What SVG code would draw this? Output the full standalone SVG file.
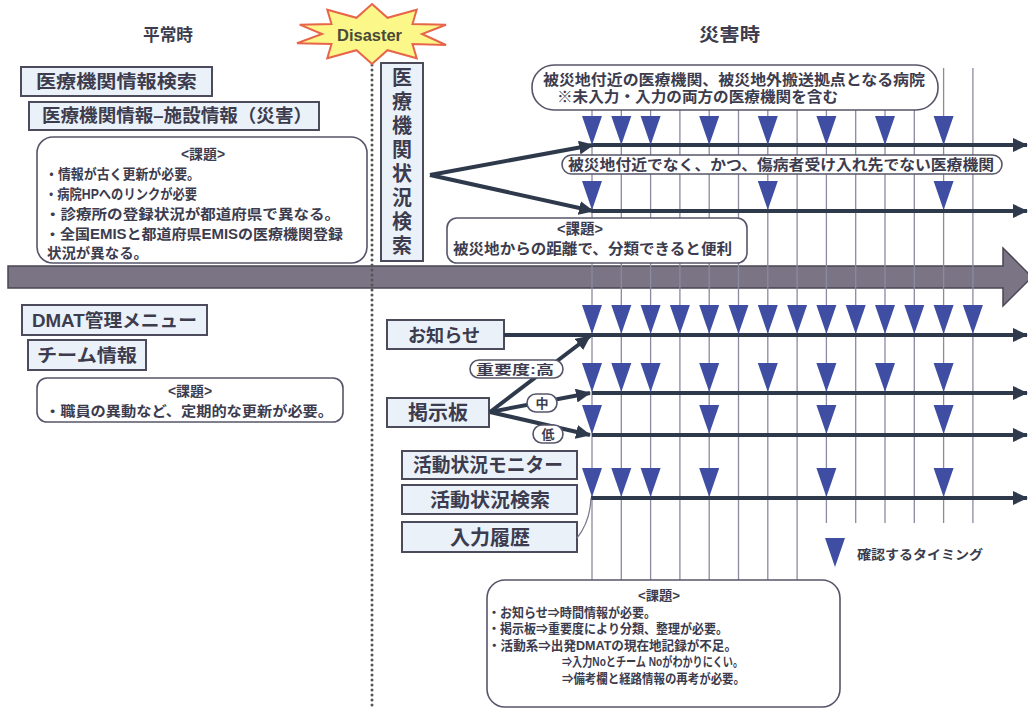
<svg xmlns="http://www.w3.org/2000/svg" xmlns:xlink="http://www.w3.org/1999/xlink" width="1028" height="710" viewBox="0 0 1028 710">
<defs>
<style>
text{font-family:"Liberation Sans","Noto Sans CJK JP",sans-serif;font-weight:bold;fill:#3c3c4e;}
.box{fill:#eaf1f9;stroke:#4b4b5c;stroke-width:2;}
.call{fill:#ffffff;stroke:#55556a;stroke-width:1.6;}
.grid{stroke:#8a8aa0;stroke-width:1.3;}
.arr{stroke:#2e3a4c;stroke-width:4;fill:none;}
.tri{fill:#3f4ea2;}
.thin{stroke:#77778a;stroke-width:1.2;fill:none;}
.c{text-anchor:middle;}
</style>
<marker id="ah" markerUnits="userSpaceOnUse" markerWidth="16" markerHeight="14" refX="14" refY="7" orient="auto">
<path d="M0,0 L15,7 L0,14 Z" fill="#2e3a4c"/>
</marker>
<path id="t" class="tri" d="M-10,-29 L10,-29 L0,0 Z"/>
</defs>
<rect width="1028" height="710" fill="#ffffff"/>

<!-- headers -->
<text x="143" y="41" font-size="17" textLength="50" lengthAdjust="spacingAndGlyphs">平常時</text>
<text x="699" y="41" font-size="18" textLength="61" lengthAdjust="spacingAndGlyphs">災害時</text>

<!-- big timeline arrow -->
<g id="timeline">
<path d="M8,266 L1003,266 L1003,248 L1032,277 L1003,306 L1003,288 L8,288 Z" fill="#7b7484" stroke="#4a4652" stroke-width="1.5"/>
</g>

<!-- dotted divider -->
<line x1="372" y1="60" x2="372" y2="710" stroke="#555" stroke-width="3" stroke-linecap="round" stroke-dasharray="0 5"/>

<!-- grid lines -->
<g id="grid" class="grid">
<line x1="592" y1="68" x2="592" y2="582"/>
<line x1="621.3" y1="68" x2="621.3" y2="582"/>
<line x1="650.6" y1="68" x2="650.6" y2="582"/>
<line x1="679.9" y1="68" x2="679.9" y2="582"/>
<line x1="709.2" y1="68" x2="709.2" y2="582"/>
<line x1="738.5" y1="68" x2="738.5" y2="582"/>
<line x1="767.8" y1="68" x2="767.8" y2="582"/>
<line x1="797.1" y1="68" x2="797.1" y2="582"/>
<line x1="826.4" y1="68" x2="826.4" y2="523"/>
<line x1="855.7" y1="68" x2="855.7" y2="523"/>
<line x1="885" y1="68" x2="885" y2="523"/>
<line x1="914.3" y1="68" x2="914.3" y2="523"/>
<line x1="943.6" y1="68" x2="943.6" y2="523"/>
<line x1="972.9" y1="68" x2="972.9" y2="523"/>
</g>

<!-- Disaster star -->
<g id="disaster">
<polygon points="372,4 387.5,17.8 416.7,9.7 412.5,24 446,24.7 422,34 446,45 412.5,44 416.7,58.3 387.5,50.2 372,64 356.5,50.2 327.3,58.3 331.5,44 297,43.3 322,34 299.7,24.7 331.5,24 327.3,9.7 356.5,17.8" fill="#fbf788" stroke="#e8654a" stroke-width="2"/>
<text x="337" y="41" font-size="16" textLength="65" lengthAdjust="spacingAndGlyphs" style="fill:#4a4a38">Disaster</text>
</g>

<!-- left: normal time -->
<g id="n-search">
<rect class="box" x="21" y="67" width="191" height="29"/>
<text x="36" y="88" font-size="18" textLength="161" lengthAdjust="spacingAndGlyphs">医療機関情報検索</text>
</g>
<g id="n-facility">
<rect class="box" x="29" y="102" width="290" height="28"/>
<text x="42" y="122" font-size="18" textLength="270" lengthAdjust="spacingAndGlyphs">医療機関情報–施設情報（災害）</text>
</g>
<g id="n-issue1">
<rect class="call" x="37" y="137" width="330" height="126" rx="16"/>
<text x="181" y="159" font-size="14" textLength="44" lengthAdjust="spacingAndGlyphs">&lt;課題&gt;</text>
<text x="45" y="179" font-size="14" textLength="155" lengthAdjust="spacingAndGlyphs">・情報が古く更新が必要。</text>
<text x="45" y="199" font-size="14" textLength="152" lengthAdjust="spacingAndGlyphs">・病院HPへのリンクが必要</text>
<text x="45" y="219" font-size="14" textLength="295" lengthAdjust="spacingAndGlyphs">・診療所の登録状況が都道府県で異なる。</text>
<text x="45" y="239" font-size="14" textLength="298" lengthAdjust="spacingAndGlyphs">・全国EMISと都道府県EMISの医療機関登録</text>
<text x="47" y="258" font-size="14" textLength="101" lengthAdjust="spacingAndGlyphs">状況が異なる。</text>
</g>
<g id="n-dmat">
<rect class="box" x="22" y="305" width="185" height="30"/>
<text x="32" y="327" font-size="18" textLength="165" lengthAdjust="spacingAndGlyphs">DMAT管理メニュー</text>
</g>
<g id="n-team">
<rect class="box" x="28" y="340" width="118" height="30"/>
<text x="37" y="362" font-size="18" textLength="100" lengthAdjust="spacingAndGlyphs">チーム情報</text>
</g>
<g id="n-issue2">
<rect class="call" x="37" y="378" width="306" height="44" rx="10"/>
<text x="168" y="396" font-size="14" textLength="44" lengthAdjust="spacingAndGlyphs">&lt;課題&gt;</text>
<text x="45" y="416" font-size="14" textLength="288" lengthAdjust="spacingAndGlyphs">・職員の異動など、定期的な更新が必要。</text>
</g>

<!-- right: disaster time -->
<g id="n-status">
<rect class="box" x="381" y="63" width="42" height="198"/>
<text x="402" y="85" class="c" font-size="20">医</text>
<text x="402" y="109" class="c" font-size="20">療</text>
<text x="402" y="133" class="c" font-size="20">機</text>
<text x="402" y="157" class="c" font-size="20">関</text>
<text x="402" y="181" class="c" font-size="20">状</text>
<text x="402" y="205" class="c" font-size="20">況</text>
<text x="402" y="229" class="c" font-size="20">検</text>
<text x="402" y="253" class="c" font-size="20">索</text>
</g>
<g id="n-near">
<rect class="call" x="532" y="65" width="406" height="45" rx="22"/>
<text x="543" y="85" font-size="15" textLength="382" lengthAdjust="spacingAndGlyphs">被災地付近の医療機関、被災地外搬送拠点となる病院</text>
<text x="557" y="102" font-size="15" textLength="281" lengthAdjust="spacingAndGlyphs">※未入力・入力の両方の医療機関を含む</text>
</g>
<g id="n-far">
<rect class="call" x="562" y="155" width="440" height="19" rx="9.5"/>
<text x="568" y="170" font-size="15" textLength="426" lengthAdjust="spacingAndGlyphs">被災地付近でなく、かつ、傷病者受け入れ先でない医療機関</text>
</g>
<g id="n-issue3">
<rect class="call" x="447" y="218" width="300" height="45" rx="10"/>
<text x="557" y="234" font-size="15" textLength="46" lengthAdjust="spacingAndGlyphs">&lt;課題&gt;</text>
<text x="453" y="254" font-size="15" textLength="279" lengthAdjust="spacingAndGlyphs">被災地からの距離で、分類できると便利</text>
</g>
<g id="n-notice">
<rect class="box" x="387" y="320" width="117" height="29"/>
<text x="408" y="342" font-size="18" textLength="72" lengthAdjust="spacingAndGlyphs">お知らせ</text>
</g>
<g id="n-board">
<rect class="box" x="387" y="398" width="102" height="29"/>
<text x="408" y="420" font-size="20" textLength="60" lengthAdjust="spacingAndGlyphs">掲示板</text>
</g>
<g id="n-monitor">
<rect class="box" x="402" y="451" width="175" height="28"/>
<text x="413" y="472" font-size="19" textLength="150" lengthAdjust="spacingAndGlyphs">活動状況モニター</text>
</g>
<g id="n-actsearch">
<rect class="box" x="402" y="485" width="175" height="29"/>
<text x="430" y="507" font-size="19" textLength="120" lengthAdjust="spacingAndGlyphs">活動状況検索</text>
</g>
<g id="n-history">
<rect class="box" x="402" y="522" width="175" height="30"/>
<text x="450" y="545" font-size="20" textLength="80" lengthAdjust="spacingAndGlyphs">入力履歴</text>
</g>

<!-- connectors -->
<g id="connectors">
<line class="arr" x1="430" y1="175" x2="593" y2="145" marker-end="url(#ah)"/>
<line class="arr" x1="430" y1="175" x2="593" y2="211" marker-end="url(#ah)"/>
<line class="arr" x1="592" y1="145" x2="1027" y2="145" marker-end="url(#ah)"/>
<line class="arr" x1="592" y1="211" x2="1027" y2="211" marker-end="url(#ah)"/>
<line class="arr" x1="504" y1="335" x2="1027" y2="335" marker-end="url(#ah)"/>
<line class="arr" x1="490" y1="412" x2="590" y2="336" marker-end="url(#ah)"/>
<line class="arr" x1="490" y1="412" x2="590" y2="393" marker-end="url(#ah)"/>
<line class="arr" x1="490" y1="412" x2="590" y2="435" marker-end="url(#ah)"/>
<line class="arr" x1="592" y1="393" x2="1027" y2="393" marker-end="url(#ah)"/>
<line class="arr" x1="592" y1="435" x2="1027" y2="435" marker-end="url(#ah)"/>
<line class="arr" x1="591" y1="498" x2="1027" y2="498" marker-end="url(#ah)"/>
<path class="thin" d="M591,498 Q590,522 577,538"/>
</g>

<!-- pills on connectors -->
<g id="p-high">
<rect class="call" x="470" y="360" width="93" height="18" rx="9"/>
<text x="476" y="374" font-size="13" textLength="78" lengthAdjust="spacingAndGlyphs">重要度:高</text>
</g>
<g id="p-mid">
<rect class="call" x="527" y="394" width="30" height="18" rx="9"/>
<text x="542" y="408" class="c" font-size="13">中</text>
</g>
<g id="p-low">
<rect class="call" x="533" y="425" width="30" height="18" rx="9"/>
<text x="548" y="439" class="c" font-size="13">低</text>
</g>

<!-- timing markers -->
<g id="markers">
<use href="#t" x="592" y="145"/><use href="#t" x="621.3" y="145"/><use href="#t" x="650.6" y="145"/><use href="#t" x="709.2" y="145"/><use href="#t" x="767.8" y="145"/><use href="#t" x="826.4" y="145"/><use href="#t" x="885" y="145"/><use href="#t" x="943.6" y="145"/>
<use href="#t" x="592" y="210"/><use href="#t" x="767.8" y="210"/><use href="#t" x="943.6" y="210"/>
<use href="#t" x="592" y="334"/><use href="#t" x="621.3" y="334"/><use href="#t" x="650.6" y="334"/><use href="#t" x="679.9" y="334"/><use href="#t" x="709.2" y="334"/><use href="#t" x="738.5" y="334"/><use href="#t" x="767.8" y="334"/><use href="#t" x="797.1" y="334"/><use href="#t" x="826.4" y="334"/><use href="#t" x="855.7" y="334"/><use href="#t" x="885" y="334"/><use href="#t" x="914.3" y="334"/><use href="#t" x="943.6" y="334"/><use href="#t" x="972.9" y="334"/>
<use href="#t" x="592" y="392"/><use href="#t" x="621.3" y="392"/><use href="#t" x="650.6" y="392"/><use href="#t" x="709.2" y="392"/><use href="#t" x="767.8" y="392"/><use href="#t" x="826.4" y="392"/><use href="#t" x="885" y="392"/><use href="#t" x="943.6" y="392"/>
<use href="#t" x="592" y="434"/><use href="#t" x="709.2" y="434"/><use href="#t" x="826.4" y="434"/><use href="#t" x="943.6" y="434"/>
<use href="#t" x="592" y="497"/><use href="#t" x="621.3" y="497"/><use href="#t" x="650.6" y="497"/><use href="#t" x="709.2" y="497"/><use href="#t" x="826.4" y="497"/><use href="#t" x="943.6" y="497"/>
</g>

<!-- legend -->
<g id="legend">
<use href="#t" x="835" y="567"/>
<text x="857" y="559" font-size="13" textLength="126" lengthAdjust="spacingAndGlyphs">確認するタイミング</text>
</g>

<!-- bottom issue box -->
<g id="n-issue4">
<rect class="call" x="487" y="580" width="353" height="127" rx="18"/>
<text x="638" y="600" font-size="13" textLength="42" lengthAdjust="spacingAndGlyphs">&lt;課題&gt;</text>
<text x="488" y="617" font-size="13" textLength="168" lengthAdjust="spacingAndGlyphs">・お知らせ⇒時間情報が必要。</text>
<text x="488" y="633" font-size="13" textLength="240" lengthAdjust="spacingAndGlyphs">・掲示板⇒重要度により分類、整理が必要。</text>
<text x="488" y="650" font-size="13" textLength="249" lengthAdjust="spacingAndGlyphs">・活動系⇒出発DMATの現在地記録が不足。</text>
<text x="562" y="666" font-size="13" textLength="181" lengthAdjust="spacingAndGlyphs">⇒入力Noとチーム Noがわかりにくい。</text>
<text x="562" y="683" font-size="13" textLength="183" lengthAdjust="spacingAndGlyphs">⇒備考欄と経路情報の再考が必要。</text>
</g>
</svg>
